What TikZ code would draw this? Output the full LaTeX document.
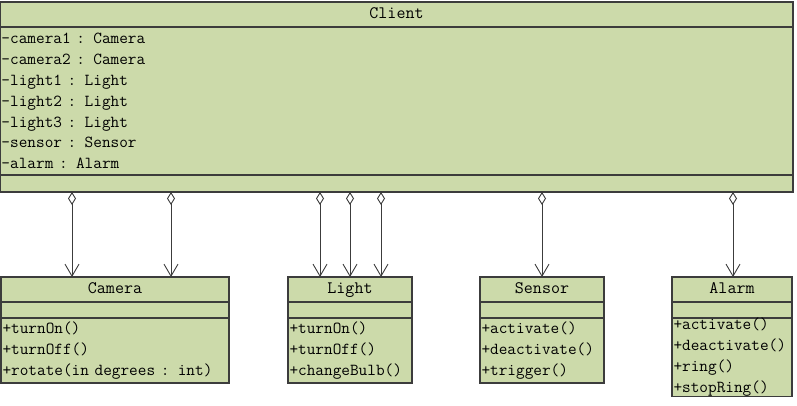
\documentclass[tikz,border=0pt]{standalone}
\usetikzlibrary{arrows.meta,positioning}
\definecolor{umlgreen}{RGB}{204,218,170}
\definecolor{umlline}{RGB}{60,60,60}

\begin{document}
\begin{tikzpicture}[x=1pt,y=-1pt]
  \tikzset{hd/.style={draw=umlline,fill=umlgreen,line width=1.1pt,inner sep=0pt,outer sep=0pt,
      anchor=north west,minimum height=25pt,text height=12pt,text depth=3.5pt,
      font=\fontsize{17.5}{20}\selectfont\ttfamily},
    cmp/.style={draw=umlline,fill=umlgreen,line width=1.1pt,inner xsep=1.5pt,outer sep=0pt,
      inner ysep=0pt,align=left,font=\fontsize{16.8}{20.9}\selectfont\ttfamily},
    agg/.style={draw=umlline,line width=.9pt,
      {Diamond[open,length=13pt,width=8pt]}-{Straight Barb[length=12pt,width=14pt]}}}
  \useasboundingbox (0,0) rectangle (797,405);
  % client
  \node[hd,minimum width=793pt] (client) at (0,2) {Client};
  \node[cmp,below=0pt of client,text width=790pt,minimum height=148pt] (client-at)
    {-camera1 : Camera\\-camera2 : Camera\\-light1 : Light\\-light2 : Light\\
     -light3 : Light\\-sensor : Sensor\\-alarm : Alarm};
  \node[cmp,below=0pt of client-at,text width=790pt,minimum height=17pt] (client-op) {};
  % parts
  \foreach \n/\t/\x/\w/\tw in {camera/Camera/1/228/225,light/Light/288/124/121,
      sensor/Sensor/480/124/121,alarm/Alarm/672/120/117} {
    \node[hd,minimum width=\w pt] (\n) at (\x,277) {\t};
    \node[cmp,below=0pt of \n,text width=\tw pt,minimum height=16pt] (\n-at) {};
  }
  \node[cmp,below=0pt of camera-at,text width=225pt,minimum height=65pt] (camera-op)
    {+turnOn()\\+turnOff()\\+rotate(in degrees : int)};
  \node[cmp,below=0pt of light-at,text width=121pt,minimum height=65pt] (light-op)
    {+turnOn()\\+turnOff()\\+changeBulb()};
  \node[cmp,below=0pt of sensor-at,text width=121pt,minimum height=65pt] (sensor-op)
    {+activate()\\+deactivate()\\+trigger()};
  \node[cmp,below=0pt of alarm-at,text width=117pt,minimum height=77pt] (alarm-op)
    {+activate()\\+deactivate()\\+ring()\\+stopRing()};
  % aggregations
  \foreach \c/\dx [count=\i] in {camera/-43,camera/56,light/-30,light/0,light/31,
      sensor/0,alarm/1} {
    \coordinate (t\i) at ([xshift=\dx pt]\c.north);
    \draw[agg] (client-op.south -| t\i) -- (t\i);
  }
\end{tikzpicture}
\end{document}
